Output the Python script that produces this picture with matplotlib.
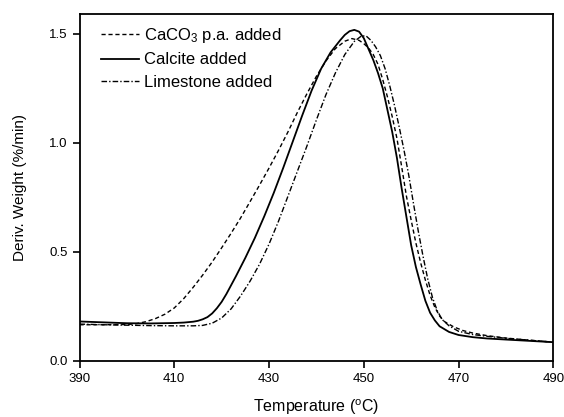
import matplotlib
matplotlib.use("Agg")
import matplotlib.pyplot as plt

plt.rcParams['font.family'] = ['Liberation Sans', 'DejaVu Sans']
plt.rcParams['mathtext.fontset'] = 'custom'
plt.rcParams['mathtext.rm'] = 'Liberation Sans'
plt.rcParams['mathtext.it'] = 'Liberation Sans:italic'
plt.rcParams['mathtext.bf'] = 'Liberation Sans:bold'

# --- data ---
t_caco3 = [390, 395, 400, 402, 404, 406, 408, 410, 412, 414, 416, 418, 420, 422, 424, 426, 428, 430,
           432, 434, 436, 438, 440, 442, 444, 446, 447.5, 449, 450, 451, 452, 453, 454, 455, 456, 457,
           458, 459, 460, 461, 462, 463, 464, 465, 466, 467, 469, 471, 473, 476, 480, 485, 490]
y_caco3 = [0.165, 0.165, 0.166, 0.170, 0.179, 0.193, 0.213, 0.242, 0.285, 0.337, 0.393, 0.453, 0.518,
           0.585, 0.655, 0.730, 0.806, 0.884, 0.965, 1.050, 1.140, 1.225, 1.305, 1.375, 1.432, 1.466,
           1.478, 1.470, 1.455, 1.435, 1.405, 1.360, 1.290, 1.210, 1.120, 1.020, 0.890, 0.755, 0.645,
           0.540, 0.450, 0.370, 0.300, 0.245, 0.205, 0.180, 0.155, 0.138, 0.127, 0.115, 0.104, 0.094, 0.085]

t_calcite = [390, 395, 400, 405, 410, 412, 414, 415, 416, 417, 418, 419, 420, 421, 423, 425, 427, 429,
             431, 433, 435, 437, 439, 441, 443, 445, 446, 447, 448, 449, 450, 451, 452, 453, 454, 455,
             456, 457, 458, 459, 460, 461, 462, 463, 464, 465, 466, 468, 470, 473, 476, 480, 485, 490]
y_calcite = [0.180, 0.176, 0.172, 0.171, 0.173, 0.175, 0.179, 0.183, 0.190, 0.200, 0.217, 0.241, 0.270,
             0.306, 0.387, 0.472, 0.563, 0.663, 0.770, 0.885, 1.005, 1.125, 1.240, 1.340, 1.415, 1.470,
             1.495, 1.512, 1.518, 1.510, 1.480, 1.430, 1.380, 1.320, 1.250, 1.150, 1.050, 0.930, 0.790,
             0.660, 0.530, 0.430, 0.350, 0.275, 0.220, 0.185, 0.158, 0.132, 0.118, 0.108, 0.102, 0.097,
             0.091, 0.085]

t_lime = [390, 395, 400, 405, 410, 414, 416, 418, 420, 422, 424, 426, 428, 430, 432, 434, 436, 438,
          440, 442, 444, 446, 448, 449.5, 450.5, 451.5, 452.5, 453.5, 454.5, 455.5, 456.5, 457.5, 458.5,
          459.5, 460.5, 461.5, 462.5, 463.5, 464.5, 465.5, 466.5, 468, 470, 473, 476, 480, 485, 490]
y_lime = [0.168, 0.165, 0.163, 0.161, 0.160, 0.160, 0.162, 0.172, 0.196, 0.238, 0.297, 0.365, 0.443,
          0.535, 0.640, 0.755, 0.870, 0.985, 1.105, 1.220, 1.320, 1.405, 1.465, 1.490, 1.490, 1.470,
          1.440, 1.400, 1.340, 1.260, 1.170, 1.070, 0.965, 0.850, 0.720, 0.595, 0.480, 0.375, 0.290,
          0.230, 0.190, 0.160, 0.135, 0.120, 0.112, 0.103, 0.094, 0.085]

labels = [r'CaCO$_{\rm 3}$ p.a. added', 'Calcite added', 'Limestone added']
x_ticks = [390, 410, 430, 450, 470, 490]
y_ticks = [0.0, 0.5, 1.0, 1.5]

fig = plt.figure(figsize=(5.64, 4.17), dpi=100)
ax = fig.add_axes([0.141, 0.135, 0.840, 0.831])

ax.plot(t_caco3, y_caco3, color='black', lw=1.0, linestyle=(0, (3, 2)), label=labels[0])
ax.plot(t_calcite, y_calcite, color='black', lw=1.3, linestyle='-', label=labels[1])
ax.plot(t_lime, y_lime, color='black', lw=1.0, linestyle=(0, (4, 1.5, 1, 1.5)), label=labels[2])

ax.set_xlim(390, 490)
ax.set_ylim(0, 1.59)
ax.set_xticks(x_ticks)
ax.set_xticklabels([str(v) for v in x_ticks])
ax.set_yticks(y_ticks)
ax.set_yticklabels([f'{v:.1f}' for v in y_ticks])
ax.tick_params(direction='out', length=5, width=1.2, labelsize=9.5, top=False, right=False)
for s in ax.spines.values():
    s.set_linewidth(1.3)

ax.set_xlabel(r'Temperature ($^{\rm o}$C)', fontsize=11.5, labelpad=9)
ax.set_ylabel('Deriv. Weight (%/min)', fontsize=11, labelpad=16)

ax.legend(loc='upper left', frameon=False, fontsize=12, handlelength=2.3, handletextpad=0.3,
          labelspacing=0.45, borderaxespad=0.3, bbox_to_anchor=(0.02, 1.0))

fig.savefig('out.png', dpi=100)
